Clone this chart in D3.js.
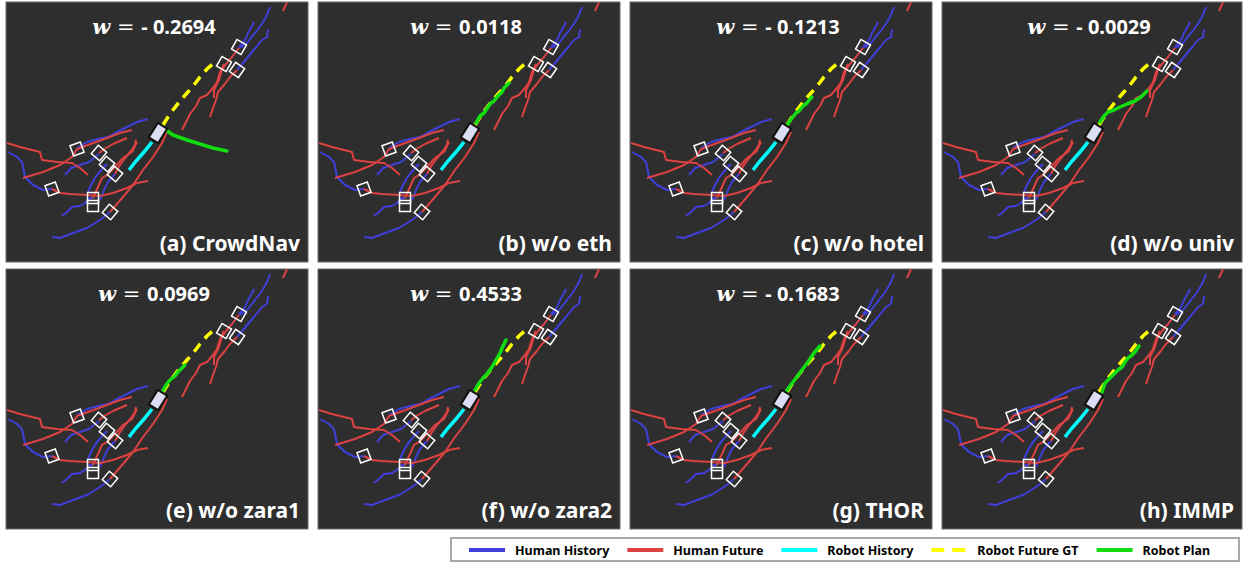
<!DOCTYPE html>
<html>
<head>
<meta charset="utf-8">
<script src="https://cdn.jsdelivr.net/npm/d3@7"></script>
<style>
  body { margin: 0; background: #fff; }
  svg { display: block; }
</style>
</head>
<body>
<div id="chart"></div>
<script>
// scene coords; every panel shows the same scene
let width = 1244,
    height = 563;

let panelLabels = ["(a) CrowdNav", "(b) w/o eth", "(c) w/o hotel", "(d) w/o univ",
                   "(e) w/o zara1", "(f) w/o zara2", "(g) THOR", "(h) IMMP"];
let weights = ["- 0.2694", "0.0118", "- 0.1213", "- 0.0029",
               "0.0969", "0.4533", "- 0.1683", null];

let humanHistory = [
    [[270,7],[267,15],[263,22],[259,28],[255,33],[251,38],[247,43],[243,46],[239,48]],
    [[254,22],[251,28],[248,33],[246,38],[243,43],[239,47]],
    [[268,29],[267,37],[262,40],[258,45],[253,51],[248,57],[243,63],[237,70]],
    [[148,119],[137,122],[127,127],[117,132],[108,137],[98,139],[87,142],[77,148]],
    [[65,175],[71,168],[80,165],[89,162],[99,154]],
    [[8,152],[17,157],[22,162],[25,177],[33,185],[43,190],[52,189]],
    [[62,216],[67,212],[72,207],[80,206],[85,203],[90,198],[93,198]],
    [[52,237],[60,238],[73,233],[87,228],[100,220],[110,212]],
    [[88,192],[92,183],[97,175],[103,168],[107,164]],
    [[100,200],[104,190],[108,182],[115,174]]
];

let humanFuture = [
    [[287,2],[283,11]],
    [[224,64],[220,72],[217,82],[213,88],[207,95],[200,98],[196,106],[190,114],[186,122],[182,130]],
    [[237,70],[230,77],[224,85],[218,92],[216,100],[213,108],[210,117]],
    [[239,48],[232,57],[226,64],[222,70],[219,80],[214,90],[214,98]],
    [[23,178],[43,172],[60,165],[72,157],[77,149],[88,145],[107,138],[120,133],[132,130]],
    [[7,143],[20,147],[40,152],[42,160],[57,162],[72,163],[80,168],[88,175]],
    [[52,189],[60,193],[70,194],[87,195],[100,196],[113,193],[127,188],[137,183],[148,181]],
    [[110,212],[123,197],[133,185],[143,170],[153,157],[162,143],[167,132]],
    [[93,198],[98,187],[102,178],[107,175],[115,167],[123,158],[132,152],[137,142]],
    [[115,174],[120,165],[126,157],[131,151],[135,145],[136,140]],
    [[99,153],[106,148],[113,144],[120,141],[127,138]]
];

// white boxes: x, y, rotation
let humans = [
    [239,47,30], [224,64,30], [237,70,35], [77,149,-20], [99,153,40], [107,164,40],
    [115,174,40], [52,189,-20], [93,198,0], [93,206,0], [110,212,40]
];

let robotHistory = [[129,170],[136,161],[144,152],[152,142]];
let robotFutureGT = [[163,125],[168,117],[173,110],[180,101],[187,93],[194,85],[200,77],[207,69],[215,62]];
let robotPose = [158, 133, 32];

let robotPlans = [
    [[166,130],[173,135],[187,140],[200,144],[213,148],[227,151]],
    [[164,123],[168,116],[172,113],[176,107],[179,103],[182,101],[185,97],[190,92],[192,88],[195,85],[197,83]],
    [[163,125],[168,118],[172,113],[175,111],[179,106],[183,103],[186,99],[188,97]],
    [[164,122],[168,116],[172,112],[178,110],[184,107],[191,104],[199,101],[205,97],[211,91]],
    [[162,125],[166,118],[170,113],[175,109],[178,105],[182,101],[185,98]],
    [[163,123],[167,116],[171,111],[175,107],[180,100],[184,93],[188,86],[191,79],[194,73]],
    [[161,126],[166,119],[172,111],[178,103],[184,95],[190,86],[196,79]],
    [[166,125],[169,116],[174,111],[177,108],[182,103],[186,100],[189,95],[192,91],[196,88],[199,85],[203,79]]
];

let legendItems = ["Human History", "Human Future", "Robot History", "Robot Future GT", "Robot Plan"];

let colors = {
    hist: "#3f3fd9",
    fut: "#dc4242",
    rhist: "#00ffff",
    rfut: "#ffff00",
    plan: "#11dd11"
};

let panelW = 302, panelH = 260;
let panelX = [6, 318, 630, 942];
let panelY = [2, 269];

let svg = d3.select("#chart")
    .append("svg")
    .attr("width", width)
    .attr("height", height);

panelLabels.forEach(function(label, i) {
    let px = panelX[i % 4], py = panelY[Math.floor(i / 4)];
    let pw = Math.min(panelW, width - px - 2);

    let x = d3.scaleLinear().domain([6, 6 + panelW]).range([px, px + panelW]);
    let y = d3.scaleLinear().domain([2, 2 + panelH]).range([py, py + panelH]);
    let line = d3.line().x(d => x(d[0])).y(d => y(d[1]));

    let g = svg.append("g");
    let clipId = "clip" + i;
    g.append("clipPath").attr("id", clipId)
        .append("rect").attr("x", px).attr("y", py).attr("width", pw).attr("height", panelH);

    g.append("rect")
        .attr("x", px).attr("y", py)
        .attr("width", pw).attr("height", panelH)
        .attr("fill", "#2e2e2e")
        .attr("stroke", "#6a6a6a")
        .attr("stroke-width", 1);

    let scene = g.append("g").attr("clip-path", `url(#${clipId})`);

    scene.selectAll(".hh").data(humanHistory).enter()
        .append("path")
        .attr("d", line)
        .attr("fill", "none")
        .attr("stroke", colors.hist)
        .attr("stroke-width", 2)
        .attr("stroke-linejoin", "round");

    scene.selectAll(".hf").data(humanFuture).enter()
        .append("path")
        .attr("d", line)
        .attr("fill", "none")
        .attr("stroke", colors.fut)
        .attr("stroke-width", 2)
        .attr("stroke-linejoin", "round");

    scene.selectAll(".box").data(humans).enter()
        .append("rect")
        .attr("x", -5.5).attr("y", -5.5)
        .attr("width", 11).attr("height", 11)
        .attr("fill", "none")
        .attr("stroke", "#ffffff")
        .attr("stroke-width", 1.5)
        .attr("transform", d => `translate(${x(d[0])},${y(d[1])}) rotate(${d[2]})`);

    scene.append("path")
        .attr("d", line(robotHistory))
        .attr("fill", "none")
        .attr("stroke", colors.rhist)
        .attr("stroke-width", 3.5);

    scene.append("path")
        .attr("d", line(robotFutureGT))
        .attr("fill", "none")
        .attr("stroke", colors.rfut)
        .attr("stroke-width", 3.5)
        .attr("stroke-dasharray", "10,7");

    scene.append("path")
        .attr("d", line(robotPlans[i]))
        .attr("fill", "none")
        .attr("stroke", colors.plan)
        .attr("stroke-width", 3.5)
        .attr("stroke-linejoin", "round")
        .attr("stroke-linecap", "round");

    scene.append("rect")
        .attr("x", -5.5).attr("y", -8.5)
        .attr("width", 11).attr("height", 17)
        .attr("fill", "#dcdcf2")
        .attr("stroke", "#111")
        .attr("stroke-width", 2)
        .attr("transform", `translate(${x(robotPose[0])},${y(robotPose[1])}) rotate(${robotPose[2]})`);

    // w value at top
    if (weights[i] !== null) {
        let t = g.append("text")
            .attr("x", px + pw / 2 - 3)
            .attr("y", py + 32)
            .attr("text-anchor", "middle")
            .attr("fill", "#fff");
        t.append("tspan")
            .attr("font-family", "'DejaVu Serif', serif")
            .attr("font-style", "italic")
            .attr("font-weight", "bold")
            .attr("font-size", 21)
            .text("w");
        t.append("tspan")
            .attr("font-family", "'DejaVu Serif', serif")
            .attr("font-size", 21)
            .text(" = ");
        t.append("tspan")
            .attr("font-family", "'Noto Sans', sans-serif")
            .attr("font-weight", "bold")
            .attr("font-size", 20)
            .text(weights[i]);
    }

    g.append("text")
        .attr("x", px + pw - 8)
        .attr("y", py + 249)
        .attr("text-anchor", "end")
        .attr("fill", "#fff")
        .attr("font-family", "'Noto Sans', sans-serif")
        .attr("font-weight", "bold")
        .attr("font-size", 21)
        .text(label);
});

// legend
let legend = svg.append("g");
legend.append("rect")
    .attr("x", 451).attr("y", 538)
    .attr("width", 788).attr("height", 23)
    .attr("fill", "#fff")
    .attr("stroke", "#a8a8a8")
    .attr("stroke-width", 2);

let swatch = [colors.hist, colors.fut, colors.rhist, colors.rfut, colors.plan];
let lx = 469;
legendItems.forEach(function(name, i) {
    let s = legend.append("line")
        .attr("x1", lx).attr("x2", lx + 36)
        .attr("y1", 550).attr("y2", 550)
        .attr("stroke", swatch[i])
        .attr("stroke-width", 4);
    if (i === 3) s.attr("stroke-dasharray", "13,8");
    let t = legend.append("text")
        .attr("x", lx + 46)
        .attr("y", 555)
        .attr("font-family", "'Noto Sans', sans-serif")
        .attr("font-weight", "bold")
        .attr("font-size", 12.5)
        .attr("fill", "#000")
        .text(name);
    lx += 46 + t.node().getComputedTextLength() + 18;
});
</script>
</body>
</html>
